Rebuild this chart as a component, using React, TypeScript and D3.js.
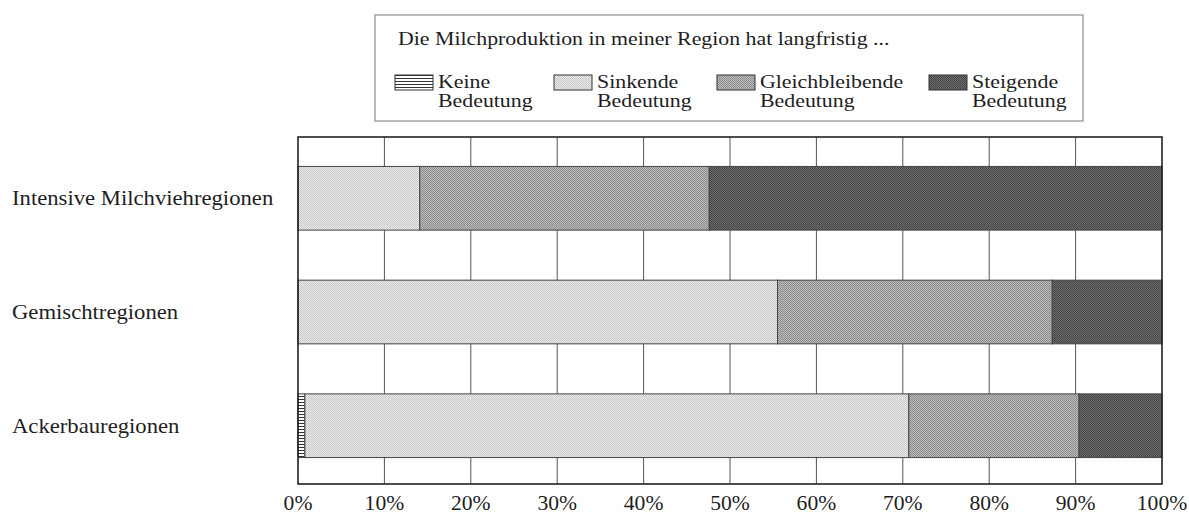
import React, { useRef, useEffect } from 'react';
import * as d3 from 'd3';

// Die Milchproduktion in meiner Region hat langfristig ... (shares in %)
const regions = ['Intensive Milchviehregionen', 'Gemischtregionen', 'Ackerbauregionen'];
const keine = [0, 0, 0.8];
const sinkende = [14.1, 55.5, 69.9];
const gleichbleibende = [33.5, 31.8, 19.7];
const steigende = [52.4, 12.7, 9.6];

const seriesKeys = ['keine', 'sinkende', 'gleich', 'steigende'];
const seriesLabels = [
  ['Keine', 'Bedeutung'],
  ['Sinkende', 'Bedeutung'],
  ['Gleichbleibende', 'Bedeutung'],
  ['Steigende', 'Bedeutung']
];
const legendTitle = 'Die Milchproduktion in meiner Region hat langfristig ...';
const tickValues = [0, 10, 20, 30, 40, 50, 60, 70, 80, 90, 100];

// layout
const W = 1189;
const H = 516;
const plot = { left: 298, right: 1162, top: 137, bottom: 484 };
const legendBox = { x: 375, y: 15, w: 708, h: 106 };
const legendX = [395, 554, 717, 929];
const FONT = '"Liberation Serif", "Times New Roman", serif';
const INK = '#1e1e1e';

export default function App() {
  const svgRef = useRef(null);

  useEffect(() => {
    if (svgRef.current) draw(svgRef);
  }, []);

  return (
    <svg
      ref={svgRef}
      width={W}
      height={H}
      style={{ position: 'absolute', left: 0, top: 0, background: '#fff' }}
    />
  );
}

const label = (sel, x, y, text, size, sx, anchor = 'start') =>
  sel
    .append('text')
    .attr('transform', `translate(${x},${y}) scale(${sx},1)`)
    .attr('text-anchor', anchor)
    .attr('font-family', FONT)
    .attr('font-size', size)
    .attr('fill', INK)
    .text(text);

const draw = (svgRef) => {
  const svg = d3.select(svgRef.current);
  svg.selectAll('*').remove();

  const table = regions.map((r, i) => ({
    region: r,
    keine: keine[i],
    sinkende: sinkende[i],
    gleich: gleichbleibende[i],
    steigende: steigende[i]
  }));
  const stacked = d3.stack().keys(seriesKeys)(table);

  const x = d3.scaleLinear().domain([0, 100]).range([plot.left, plot.right]);
  const y = d3
    .scaleBand()
    .domain(regions)
    .range([plot.top + 1, plot.bottom + 2])
    .paddingInner(0.44)
    .paddingOuter(0.25);

  // screen-like fill patterns (pixel checker, like the printed raster)
  const defs = svg.append('defs');
  const dotted = (id, bg, fg) => {
    const p = defs
      .append('pattern')
      .attr('id', id)
      .attr('patternUnits', 'userSpaceOnUse')
      .attr('width', 2)
      .attr('height', 2);
    p.append('rect').attr('width', 2).attr('height', 2).attr('fill', bg);
    p.append('rect').attr('width', 1).attr('height', 1).attr('fill', fg);
    p.append('rect').attr('x', 1).attr('y', 1).attr('width', 1).attr('height', 1).attr('fill', fg);
  };
  const hatch = defs
    .append('pattern')
    .attr('id', 'p-keine')
    .attr('patternUnits', 'userSpaceOnUse')
    .attr('width', 4)
    .attr('height', 3);
  hatch.append('rect').attr('width', 4).attr('height', 3).attr('fill', '#fff');
  hatch.append('rect').attr('width', 4).attr('height', 1).attr('fill', '#333');
  dotted('p-sinkende', '#eaeaea', '#c9c9c9');
  dotted('p-gleich', '#bcbcbc', '#8c8c8c');
  dotted('p-steigende', '#6e6e6e', '#444444');

  // grid
  svg
    .append('g')
    .selectAll('line')
    .data(tickValues.slice(1, -1))
    .join('line')
    .attr('x1', (d) => x(d))
    .attr('x2', (d) => x(d))
    .attr('y1', plot.top)
    .attr('y2', plot.bottom)
    .attr('stroke', '#555')
    .attr('stroke-width', 1);

  // bars
  svg
    .append('g')
    .selectAll('g')
    .data(stacked)
    .join('g')
    .attr('fill', (d) => `url(#p-${d.key})`)
    .selectAll('rect')
    .data((d) => d.filter((s) => s[1] - s[0] > 0))
    .join('rect')
    .attr('x', (d) => x(d[0]))
    .attr('y', (d) => y(d.data.region))
    .attr('width', (d) => x(d[1]) - x(d[0]))
    .attr('height', y.bandwidth())
    .attr('stroke', '#444')
    .attr('stroke-width', 1);

  // frame
  svg
    .append('rect')
    .attr('x', plot.left)
    .attr('y', plot.top)
    .attr('width', plot.right - plot.left)
    .attr('height', plot.bottom - plot.top)
    .attr('fill', 'none')
    .attr('stroke', '#222')
    .attr('stroke-width', 1.6);

  // category labels
  const cats = svg.append('g');
  regions.forEach((r) => label(cats, 12, y(r) + y.bandwidth() / 2 + 7, r, 21, 1.08));

  // x tick labels
  const ticks = svg.append('g');
  tickValues.forEach((t) => label(ticks, x(t), 510, `${t}%`, 21, 1.03, 'middle'));

  // legend
  const lg = svg.append('g');
  lg.append('rect')
    .attr('x', legendBox.x)
    .attr('y', legendBox.y)
    .attr('width', legendBox.w)
    .attr('height', legendBox.h)
    .attr('fill', '#fff')
    .attr('stroke', '#777')
    .attr('stroke-width', 1);
  label(lg, 398, 45, legendTitle, 19, 1.15);
  seriesKeys.forEach((k, i) => {
    lg.append('rect')
      .attr('x', legendX[i])
      .attr('y', 75)
      .attr('width', 38)
      .attr('height', 15)
      .attr('fill', `url(#p-${k})`)
      .attr('stroke', '#333')
      .attr('stroke-width', 1);
    label(lg, legendX[i] + 43, 88, seriesLabels[i][0], 19, 1.15);
    label(lg, legendX[i] + 43, 107, seriesLabels[i][1], 19, 1.15);
  });

  return svg.node();
};
